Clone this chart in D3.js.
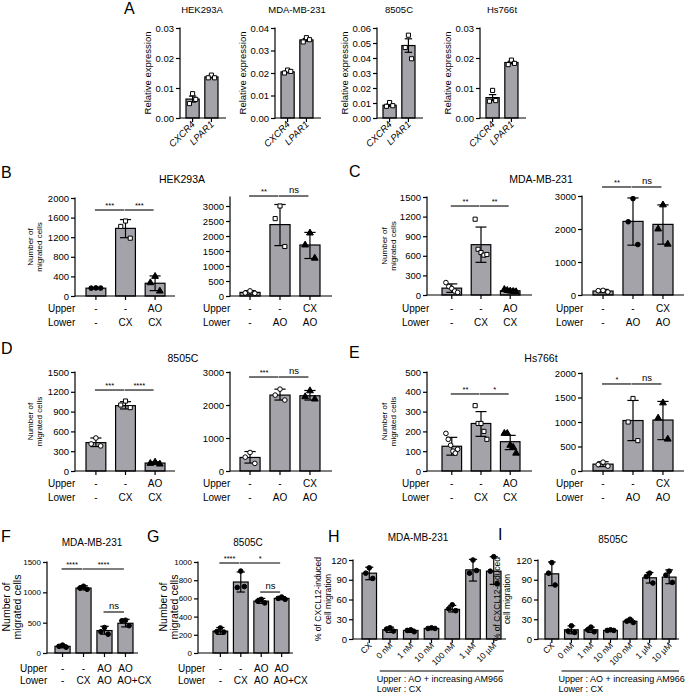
<!DOCTYPE html>
<html><head><meta charset="utf-8">
<script src="https://cdn.jsdelivr.net/npm/d3@7"></script>
<style>
body{margin:0;background:#fff}
svg{display:block}
text{font-family:"Liberation Sans",Arial,Helvetica,sans-serif;fill:#000}
</style>
</head><body>
<svg id="c" width="685" height="694"></svg>
<script>
// ---------------- DATA ----------------
// Panel A
const aGenes = ["CXCR4", "LPAR1"];
const aCells = ["HEK293A", "MDA-MB-231", "8505C", "Hs766t"];
const aMax = [0.03, 0.04, 0.06, 0.03];
const aMean = [[0.0063, 0.0137], [0.0205, 0.0347], [0.0085, 0.0483], [0.0068, 0.0185]];
const aSem = [[0.0010, 0.0003], [0.0004, 0.0006], [0.0007, 0.0045], [0.0010, 0.0004]];
const aPts = [
  [[0.0081, 0.0048, 0.0062], [0.0143, 0.0134, 0.0134]],
  [[0.0213, 0.0200, 0.0207], [0.0357, 0.0338, 0.0348]],
  [[0.0103, 0.0078, 0.0082], [0.0552, 0.0470, 0.0395]],
  [[0.0092, 0.0056, 0.0058], [0.0193, 0.0178, 0.0182]]
];

// Panels B-E (migration, 3 conditions each side)
const migTitles = ["HEK293A", "MDA-MB-231", "8505C", "Hs766t"];
const migUpperL = ["-", "-", "AO"], migLowerL = ["-", "CX", "CX"];
const migUpperR = ["-", "-", "CX"], migLowerR = ["-", "AO", "AO"];
const migMaxL = [2000, 1500, 1500, 500], migStepL = [400, 300, 300, 100];
const migMaxR = [3000, 3000, 3000, 2000], migStepR = [500, 1000, 1000, 500];
const migMeanL = [[160, 1380, 260], [105, 770, 65], [430, 990, 120], [125, 240, 148]];
const migErrL = [
  [[150, 172], [1190, 1560], [110, 410]],
  [[40, 170], [500, 1040], [42, 90]],
  [[370, 500], [940, 1050], [102, 140]],
  [[80, 170], [175, 300], [108, 180]]
];
const migPtsL = [
  [[165, 160, 162], [1530, 1420, 1180], [400, 270, 100]],
  [[190, 130, 100, 60, 40], [1160, 700, 650, 610, 620], [85, 70, 60, 55, 50]],
  [[500, 410, 380], [1060, 1000, 960], [135, 115, 105]],
  [[190, 160, 130, 100, 90, 110], [330, 240, 240, 200, 160], [190, 190, 130, 120, 90]]
];
const migMeanR = [[120, 2380, 1700], [120, 2230, 2140], [410, 2300, 2280], [140, 1030, 1040]];
const migErrR = [
  [[60, 180], [1680, 3050], [1250, 2120]],
  [[70, 170], [1510, 2940], [1540, 2730]],
  [[240, 590], [2150, 2480], [2150, 2440]],
  [[90, 190], [620, 1440], [640, 1420]]
];
const migPtsR = [
  [[170, 100, 90], [3000, 2580, 1650], [2100, 1700, 1260]],
  [[140, 130, 90], [2920, 2220, 1530], [2730, 2000, 1540]],
  [[560, 420, 230], [2480, 2300, 2150], [2430, 2250, 2180]],
  [[180, 130, 100], [1480, 1000, 620], [1390, 1080, 650]]
];
const migMarkL = [["O", "s", "T"], ["o", "s", "T"], ["o", "s", "T"], ["o", "s", "T"]];
const migMarkR = [["o", "s", "T"], ["o", "O", "T"], ["o", "o", "T"], ["o", "s", "T"]];
const migSigL = [["***", "***"], ["**", "**"], ["***", "****"], ["**", "*"]];
const migSigR = [["**", "ns"], ["**", "ns"], ["***", "ns"], ["*", "ns"]];
const migSigLevelL = [1755, 1362, 1227, 389];
const migSigLevelR = [3333, 3273, 2848, 1776];

// Panels F-G
const fgTitles = ["MDA-MB-231", "8505C"];
const fgUpper = ["-", "-", "AO", "AO"], fgLower = ["-", "CX", "AO", "AO+CX"];
const fgMax = [1500, 1000], fgStep = [500, 200];
const fgMean = [[110, 1070, 370, 490], [240, 780, 570, 600]];
const fgErr = [
  [[85, 135], [1040, 1110], [310, 440], [430, 555]],
  [[205, 280], [670, 890], [545, 600], [585, 620]]
];
const fgPts = [
  [[130, 110, 95], [1100, 1070, 1050], [420, 350, 310], [540, 530, 450]],
  [[275, 235, 230], [900, 720, 730], [590, 570, 550], [615, 600, 590]]
];
const fgSig = [
  [[0, 1, "****", 1385], [1, 3, "****", 1385], [2, 3, "ns", 676]],
  [[0, 1, "****", 989], [1, 3, "*", 989], [2, 3, "ns", 670]]
];

// Panels H-I
const hiTitles = ["MDA-MB-231", "8505C"];
const hiDoses = ["CX", "0 nM", "1 nM", "10 nM", "100 nM", "1 µM", "10 µM"];
const hiMax = 120, hiStep = 30;
const hiMean = [[100, 14, 13, 16, 45, 105, 103], [99, 14, 14, 13, 27, 93, 94]];
const hiErr = [
  [[90, 109], [10, 18], [10, 15], [15, 17.5], [41, 51], [88, 121], [83, 125]],
  [[81, 117], [8, 20], [10, 18], [12, 14], [25, 30], [85, 101], [84, 105]]
];
const hiPts = [
  [[108, 100, 92], [17, 15, 12], [14, 13, 11], [17, 16, 16], [52, 46, 43], [120, 100, 104], [125, 103, 84]],
  [[116, 100, 82], [20, 12, 10], [18, 14, 11], [14, 13, 13], [30, 27, 25], [100, 95, 85], [103, 97, 86]]
];
const hiUpperText = "Upper : AO + increasing AM966";
const hiLowerText = "Lower : CX";

// ---------------- DRAWING ----------------
const svg = d3.select("#c");
const FILL = "#a4a3aa";

function marker(g, type, x, y) {
  const fill = (type === type.toUpperCase()) ? "#000" : "#fff";
  const t = type.toLowerCase();
  const st = t === "o" ? d3.symbolCircle : t === "s" ? d3.symbolSquare : d3.symbolTriangle;
  const size = t === "t" ? 20 : 17;
  g.append("path").attr("d", d3.symbol().type(st).size(size)())
    .attr("transform", `translate(${x},${y})`)
    .attr("fill", fill).attr("stroke", "#000").attr("stroke-width", 1);
}

function txt(g, s, x, y, size, anchor) {
  return g.append("text").attr("x", x).attr("y", y).attr("font-size", size)
    .attr("text-anchor", anchor || "middle").text(s);
}

function vlabel(g, lines, xs, yc, size) {
  lines.forEach((l, i) => {
    g.append("text").attr("transform", `translate(${xs[i]},${yc}) rotate(-90)`)
      .attr("text-anchor", "middle").attr("dominant-baseline", "central")
      .attr("font-size", size).text(l);
  });
}

function chart(c) {
  const g = svg.append("g");
  const n = c.means.length;
  const y = d3.scaleLinear().domain([0, c.max]).range([c.y0, c.yTop]);
  const x = d3.scaleBand().domain(d3.range(n)).range([c.b0, c.b1]).paddingInner(c.pad).paddingOuter(0);
  const bw = x.bandwidth();
  const cx = i => x(i) + bw / 2;

  // bars
  g.selectAll("rect.bar").data(c.means).join("rect")
    .attr("x", (d, i) => x(i)).attr("width", bw)
    .attr("y", d => y(d)).attr("height", d => c.y0 - y(d))
    .attr("fill", FILL).attr("stroke", "#000").attr("stroke-width", 1.2);

  // error bars
  const cw = bw * 0.28;
  c.errs.forEach((e, i) => {
    const [lo, hi] = e;
    g.append("line").attr("x1", cx(i)).attr("x2", cx(i)).attr("y1", y(lo)).attr("y2", y(hi))
      .attr("stroke", "#000").attr("stroke-width", 1.2);
    [lo, hi].forEach(v => g.append("line").attr("x1", cx(i) - cw).attr("x2", cx(i) + cw)
      .attr("y1", y(v)).attr("y2", y(v)).attr("stroke", "#000").attr("stroke-width", 1.2));
  });

  // points
  c.pts.forEach((arr, i) => {
    const m = arr.length;
    const spread = bw * (m > 3 ? 0.3 : 0.24);
    arr.forEach((v, k) => {
      const kk = m === 3 ? [1, 0, 2][k] : k;
      const o = m === 1 ? 0 : -spread + 2 * spread * kk / (m - 1);
      marker(g, c.marks[i], cx(i) + o, y(v));
    });
  });

  // y axis
  const yAxis = d3.axisLeft(y).tickValues(c.ticks).tickSize(4).tickPadding(2).tickFormat(c.fmt);
  const ga = g.append("g").attr("transform", `translate(${c.ax},0)`).call(yAxis);
  ga.select(".domain").remove();
  ga.selectAll("line").attr("stroke", "#000").attr("stroke-width", 1.2);
  ga.selectAll("text").attr("font-size", c.tickSize).attr("font-family", null).attr("fill", "#000");
  g.append("line").attr("x1", c.ax).attr("x2", c.ax)
    .attr("y1", y(c.axisMax || c.max) - 0.6).attr("y2", c.y0 + 0.6)
    .attr("stroke", "#000").attr("stroke-width", 1.2);

  // x axis
  const xAxis = d3.axisBottom(x).tickSize(4).tickFormat("");
  const gx = g.append("g").attr("transform", `translate(0,${c.y0})`).call(xAxis);
  gx.select(".domain").remove();
  gx.selectAll("line").attr("stroke", "#000").attr("stroke-width", 1.2);
  g.append("line").attr("x1", c.ax).attr("x2", c.axEnd).attr("y1", c.y0).attr("y2", c.y0)
    .attr("stroke", "#000").attr("stroke-width", 1.2);

  // significance
  (c.sig || []).forEach(([i, j, lab, lev]) => {
    const yy = y(lev);
    g.append("line").attr("x1", cx(i) - 1).attr("x2", cx(j) - 1.5).attr("y1", yy).attr("y2", yy)
      .attr("stroke", "#000").attr("stroke-width", 1.1);
    const star = lab !== "ns";
    txt(g, lab, (cx(i) + cx(j)) / 2 - 1, yy - (star ? 2 : 3), star ? 7.5 : 9.5);
  });

  // row labels
  if (c.rows) {
    c.rows.forEach(r => {
      txt(g, r.name, c.rowX, r.y, c.rowSize || 10, "start");
      r.vals.forEach((v, i) => txt(g, v, cx(i) + (v.length > 3 ? 9 : 0), r.y, c.rowSize || 10));
    });
  }

  // rotated x labels
  if (c.xlabels) {
    c.xlabels.forEach((l, i) => {
      g.append("text").attr("transform", `translate(${cx(i) + 3},${c.y0 + 7}) rotate(-45)`)
        .attr("text-anchor", "end").attr("font-size", c.xlSize)
        .attr("font-style", c.italic ? "italic" : null).text(l);
    });
  }
  return {x, y, cx, bw};
}

const range = (max, step) => d3.range(0, max + step / 2, step);

// Panel letters (left edges)
const letters = [["A", 124, 14], ["B", 1, 178], ["C", 349, 177], ["D", 1, 354], ["E", 349, 358],
  ["F", 1, 542], ["G", 147, 542], ["H", 328, 542], ["I", 498, 540]];
letters.forEach(([l, x, y]) => txt(svg, l, x, y, 16, "start"));

// ---- Panel A ----
const aAx = [180, 275, 377, 480];
aCells.forEach((cell, i) => {
  const ax = aAx[i];
  chart({
    means: aMean[i], errs: aMean[i].map((m, k) => [m - aSem[i][k], m + aSem[i][k]]),
    pts: aPts[i], marks: ["s", "s"], max: aMax[i], ticks: range(aMax[i], 0.01).map(v => +v.toFixed(2)),
    fmt: d3.format(".2f"), y0: 118, yTop: 28, ax, axEnd: ax + 46, b0: ax + 6, b1: ax + 38, pad: 0.3,
    tickSize: 9.5, xlabels: aGenes, xlSize: 9.5, italic: true
  });
  txt(svg, cell, ax + 22, 13, 9.5);
  svg.append("text").attr("transform", `translate(${ax - 33},73) rotate(-90)`)
    .attr("text-anchor", "middle").attr("dominant-baseline", "central").attr("font-size", 9.5)
    .text("Relative expression");
});

// ---- Panels B-E ----
const migLayout = [
  {lx: 75, lend: 175, lb: [86, 165], rx: 230, rend: 332, rb: [240, 320], y0: 296, lTop: 198, rTop: 206, rAxisMax: 3300,
    rowXL: 48, rowXR: 203, rows: [308, 322], yl: [30, 39], title: [182, 183]},
  {lx: 427, lend: 532, lb: [442, 520], rx: 582, rend: 684, rb: [593, 673], y0: 295, lTop: 197, rTop: 196,
    rowXL: 402, rowXR: 556, rows: [308, 322], yl: [384, 393], title: [541, 183]},
  {lx: 75, lend: 175, lb: [86, 165], rx: 230, rend: 332, rb: [240, 320], y0: 471, lTop: 372, rTop: 372,
    rowXL: 48, rowXR: 203, rows: [483, 497], yl: [30, 39], title: [183, 362]},
  {lx: 427, lend: 532, lb: [442, 520], rx: 582, rend: 684, rb: [593, 673], y0: 471, lTop: 372, rTop: 373,
    rowXL: 402, rowXR: 556, rows: [483, 497], yl: [384, 393], title: [541, 362]}
];
migTitles.forEach((t, i) => {
  const L = migLayout[i];
  chart({
    means: migMeanL[i], errs: migErrL[i], pts: migPtsL[i], marks: migMarkL[i],
    max: migMaxL[i], ticks: range(migMaxL[i], migStepL[i]), fmt: d3.format("d"),
    y0: L.y0, yTop: L.lTop, ax: L.lx, axEnd: L.lend, b0: L.lb[0], b1: L.lb[1], pad: 0.33, tickSize: 9.5,
    sig: [[0, 1, migSigL[i][0], migSigLevelL[i]], [1, 2, migSigL[i][1], migSigLevelL[i]]],
    rowX: L.rowXL, rows: [{name: "Upper", y: L.rows[0] + 3.5, vals: migUpperL}, {name: "Lower", y: L.rows[1] + 3.5, vals: migLowerL}]
  });
  chart({
    means: migMeanR[i], errs: migErrR[i], pts: migPtsR[i], marks: migMarkR[i],
    max: migMaxR[i], axisMax: L.rAxisMax, ticks: range(migMaxR[i], migStepR[i]), fmt: d3.format("d"),
    y0: L.y0, yTop: L.rTop, ax: L.rx, axEnd: L.rend, b0: L.rb[0], b1: L.rb[1], pad: 0.33, tickSize: 9.5,
    sig: [[0, 1, migSigR[i][0], migSigLevelR[i]], [1, 2, migSigR[i][1], migSigLevelR[i]]],
    rowX: L.rowXR, rows: [{name: "Upper", y: L.rows[0] + 3.5, vals: migUpperR}, {name: "Lower", y: L.rows[1] + 3.5, vals: migLowerR}]
  });
  txt(svg, t, L.title[0], L.title[1], 10.5);
  vlabel(svg, ["Number of", "migrated cells"], L.yl, (L.y0 + L.lTop) / 2, 8);
});

// ---- Panels F-G ----
const fgLayout = [
  {ax: 47, end: 138, b: [55, 133], rowX: 20, yl: [6, 17], title: [92, 546]},
  {ax: 198, end: 293, b: [213, 289], rowX: 178, yl: [163, 174], title: [248, 546]}
];
fgTitles.forEach((t, i) => {
  const L = fgLayout[i];
  chart({
    means: fgMean[i], errs: fgErr[i], pts: fgPts[i], marks: ["O", "O", "O", "O"],
    max: fgMax[i], ticks: range(fgMax[i], fgStep[i]), fmt: d3.format("d"),
    y0: 653, yTop: 562, ax: L.ax, axEnd: L.end, b0: L.b[0], b1: L.b[1], pad: 0.28, tickSize: 8,
    sig: fgSig[i],
    rowX: L.rowX, rows: [{name: "Upper", y: 671.5, vals: fgUpper}, {name: "Lower", y: 683.5, vals: fgLower}]
  });
  txt(svg, t, L.title[0], L.title[1], 10);
  vlabel(svg, ["Number of", "migrated cells"], L.yl, 607, 10.5);
});

// ---- Panels H-I ----
const hiLayout = [
  {ax: 353, end: 506, b: [362, 501], yl: [318, 328], title: [418, 541]},
  {ax: 538, end: 679, b: [545, 676], yl: [497, 507], title: [613, 543]}
];
hiTitles.forEach((t, i) => {
  const L = hiLayout[i];
  const r = chart({
    means: hiMean[i], errs: hiErr[i], pts: hiPts[i], marks: hiDoses.map(() => "O"),
    max: hiMax, ticks: range(hiMax, hiStep), fmt: d3.format("d"),
    y0: 639, yTop: 560, ax: L.ax, axEnd: L.end, b0: L.b[0], b1: L.b[1], pad: 0.3, tickSize: 9.5,
    xlabels: hiDoses, xlSize: 8.5
  });
  const x1 = r.cx(1) - r.bw / 2 - 3, x2 = r.cx(hiDoses.length - 1) + r.bw / 2 + 3;
  svg.append("line").attr("x1", x1).attr("x2", x2).attr("y1", 671).attr("y2", 671)
    .attr("stroke", "#000").attr("stroke-width", 1.1);
  txt(svg, hiUpperText, x1 - 3, 682, 9, "start");
  txt(svg, hiLowerText, x1 - 3, 692, 9, "start");
  txt(svg, t, L.title[0], L.title[1], 10);
  vlabel(svg, ["% of CXCL12-induced", "cell migration"], L.yl, 599, 8.5);
});
</script>
</body></html>
